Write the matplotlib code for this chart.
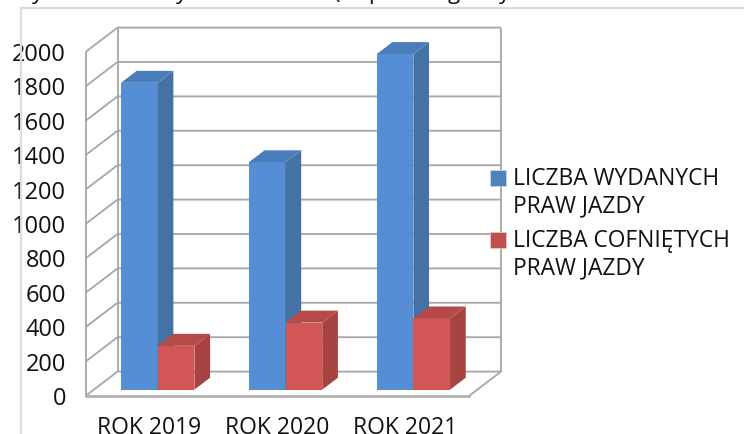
import matplotlib
matplotlib.use("Agg")
import matplotlib.pyplot as plt
from matplotlib.patches import Polygon, Rectangle
from matplotlib.lines import Line2D

categories = ["ROK 2019", "ROK 2020", "ROK 2021"]
wydane = [1784, 1322, 1951]
cofniete = [255, 390, 414]
series_names = ["LICZBA WYDANYCH\nPRAW JAZDY", "LICZBA COFNIĘTYCH\nPRAW JAZDY"]
y_ticks = [0, 200, 400, 600, 800, 1000, 1200, 1400, 1600, 1800, 2000]
# only the descenders of the line above the chart are visible at the top edge
top_fragments = ["y", "y", "(", "p", "g", "y"]

W, H = 744, 434
FONT = "Open Sans"
plt.rcParams["font.family"] = [FONT, "DejaVu Sans"]

fig = plt.figure(figsize=(W / 100, H / 100), dpi=100)
L, R, T, B = 85.5, 469.0, 52.0, 396.0
ax = fig.add_axes([L / W, 1 - B / H, (R - L) / W, (B - T) / H])
ax.set_xlim(0, 3)
ax.set_ylim(0, 2000)
ax.axis("off")

px_x = (R - L) / 3
px_y = (B - T) / 2000
DX = 32.0 / px_x          # full depth of the floor, x data units
DY = 24.4 / px_y          # full depth of the floor, y data units


def proj(x, y, d):
    return (x + d * DX, y + d * DY)


GRID = "#a6a6a6"
kw = dict(color=GRID, lw=1.3, clip_on=False, solid_capstyle="butt", zorder=1)
for v in y_ticks:
    a, b, c = proj(0, v, 0), proj(0, v, 1), proj(3, v, 1)
    ax.plot([a[0], b[0], c[0]], [a[1], b[1], c[1]], **kw)
ax.plot([0, 0], [0, 2000], **kw)
b0, b1 = proj(0, 0, 1), proj(0, 2000, 1)
ax.plot([b0[0], b1[0]], [b0[1], b1[1]], **kw)
r0, r1 = proj(3, 0, 1), proj(3, 2000, 1)
ax.plot([r0[0], r1[0]], [r0[1], r1[1]], **kw)
f0 = proj(3, 0, 0)
ax.plot([0, f0[0]], [0, f0[1]], color="#b3b3b3", lw=2.0, clip_on=False, zorder=1)
ax.plot([f0[0], r0[0]], [f0[1], r0[1]], **kw)

BAR_W = 36.7 / px_x
D0, D1 = 0.26, 0.75
GROUP_X = 35.5 / px_x - D0 * DX


def bar3d(x, h, front, top, side, z):
    p = [proj(x, 0, D0), proj(x + BAR_W, 0, D0), proj(x + BAR_W, h, D0), proj(x, h, D0)]
    ax.add_patch(Polygon(p, closed=True, fc=front, ec="none", zorder=z, clip_on=False))
    s = [proj(x + BAR_W, 0, D0), proj(x + BAR_W, 0, D1), proj(x + BAR_W, h, D1), proj(x + BAR_W, h, D0)]
    ax.add_patch(Polygon(s, closed=True, fc=side, ec="none", zorder=z, clip_on=False))
    t = [proj(x, h, D0), proj(x + BAR_W, h, D0), proj(x + BAR_W, h, D1), proj(x, h, D1)]
    ax.add_patch(Polygon(t, closed=True, fc=top, ec="none", zorder=z, clip_on=False))


for i, (a, c) in enumerate(zip(wydane, cofniete)):
    x = i + GROUP_X
    bar3d(x, a, "#558ed5", "#4a7ebb", "#4671a5", 3 + i * 2)
    bar3d(x + BAR_W, c, "#d25655", "#b64a48", "#a74442", 4 + i * 2)

# tick labels
for v in y_ticks:
    ax.annotate(str(v), xy=(0, v), xycoords="data", xytext=(-19.5, -3), textcoords="offset pixels",
                ha="right", va="center", fontsize=17, color="#111111", annotation_clip=False)
for i, c in enumerate(categories):
    ax.annotate(c, xy=(i + 0.5, 0), xycoords="data", xytext=(0, -38), textcoords="offset pixels",
                ha="center", va="baseline", fontsize=16.5, color="#111111", annotation_clip=False)

# outer frame of the pasted chart
fr = dict(color="#dcdcdc", lw=1.6, transform=fig.transFigure, clip_on=False)
fig.add_artist(Line2D([20.5 / W, 20.5 / W], [0, 1 - 8 / H], **fr))
fig.add_artist(Line2D([20.5 / W, 1], [1 - 8 / H, 1 - 8 / H], **fr))

# legend
for y, col, edge, name in [(178, "#4f81bd", "#c9d6ea", series_names[0]),
                           (240, "#c0504d", "#e8c5c4", series_names[1])]:
    fig.add_artist(Rectangle((489.5 / W, 1 - (y + 8) / H), 16 / W, 16 / H, fc=col, ec=edge,
                             lw=0.6, transform=fig.transFigure))
    fig.text(513 / W, 1 - (y + 15) / H, name, ha="left", va="center", fontsize=16.4,
             color="#111111", linespacing=1.2)

# cropped line of text at the very top edge
for px, s in zip([38, 181, 336, 375, 454, 505], top_fragments):
    fig.text(px / W, 1 + 1.5 / H, s, ha="center", va="baseline", fontsize=16, color="#111111")

fig.savefig("out.png", dpi=100)
